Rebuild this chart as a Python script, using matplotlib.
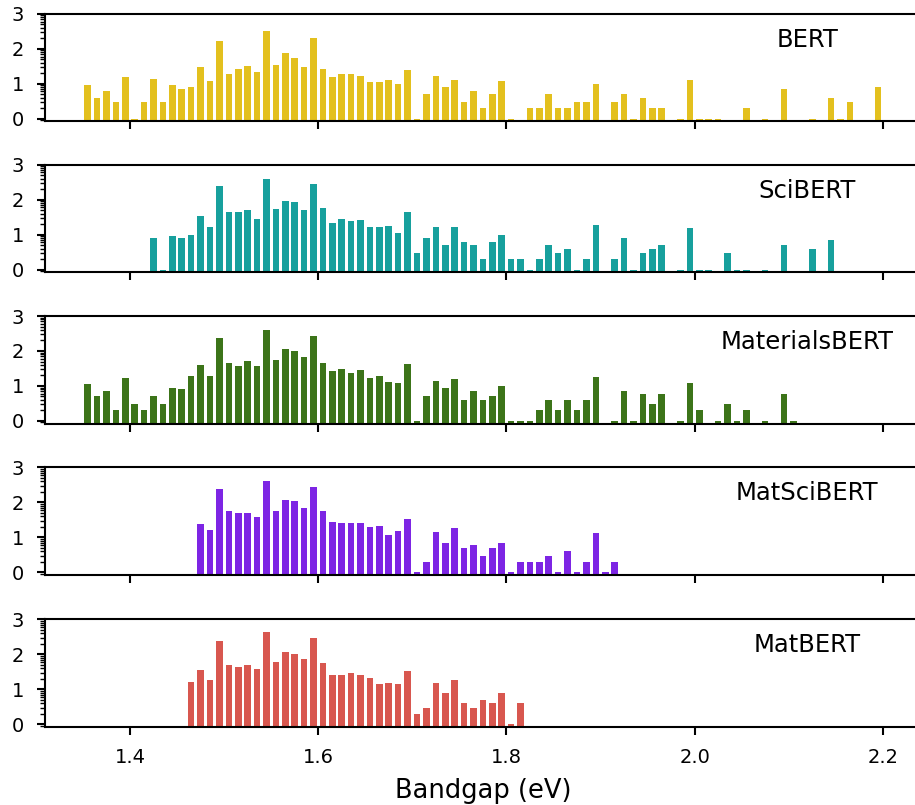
import numpy as np
import matplotlib
matplotlib.use("Agg")
import matplotlib.pyplot as plt
from matplotlib.ticker import LogLocator, FuncFormatter, NullFormatter, MultipleLocator

# Bandgap bins (eV): 0.01 eV wide bins starting at 1.35 eV
bin_centers = np.round(1.355 + 0.01 * np.arange(85), 3)

models = ["BERT", "SciBERT", "MaterialsBERT", "MatSciBERT", "MatBERT"]

bert = [9, 4, 6, 3, 16, 1, 3, 14, 3, 9,
        7, 8, 30, 12, 168, 19, 26, 32, 22, 319,
        34, 76, 55, 30, 205, 26, 16, 19, 19, 17,
        11, 11, 13, 10, 24, 1, 5, 17, 8, 13,
        3, 6, 2, 5, 12, 1, 0, 2, 2, 5,
        2, 2, 3, 3, 10, 0, 3, 5, 1, 4,
        2, 2, 0, 1, 13, 1, 1, 1, 0, 0,
        2, 0, 1, 0, 7, 0, 0, 1, 0, 4,
        1, 3, 0, 0, 8]

scibert = [0, 0, 0, 0, 0, 0, 0, 8, 1, 9,
           8, 10, 34, 17, 250, 44, 44, 52, 28, 389,
           55, 91, 85, 51, 279, 58, 22, 28, 25, 27,
           17, 17, 18, 11, 45, 3, 8, 16, 5, 17,
           6, 5, 2, 6, 10, 2, 2, 1, 2, 5,
           3, 4, 1, 2, 19, 0, 2, 8, 1, 3,
           4, 5, 0, 1, 15, 1, 1, 0, 3, 1,
           1, 0, 1, 0, 5, 0, 0, 4, 0, 7,
           0, 0, 0, 0, 0]

materialsbert = [11, 5, 7, 2, 17, 3, 2, 5, 3, 9,
                 8, 19, 40, 19, 234, 44, 38, 51, 38, 406,
                 56, 116, 97, 67, 274, 46, 26, 30, 24, 28,
                 17, 19, 13, 12, 43, 1, 5, 14, 9, 16,
                 4, 7, 4, 5, 10, 1, 1, 1, 2, 4,
                 2, 4, 2, 4, 18, 0, 1, 7, 1, 6,
                 3, 6, 0, 1, 12, 2, 0, 1, 3, 1,
                 2, 0, 1, 0, 6, 1, 0, 0, 0, 0,
                 0, 0, 0, 0, 0]

matscibert = [0, 0, 0, 0, 0, 0, 0, 0, 0, 0,
              0, 0, 24, 16, 239, 55, 51, 51, 39, 406,
              58, 116, 106, 68, 274, 56, 28, 26, 26, 25,
              20, 21, 12, 15, 33, 1, 2, 14, 7, 19,
              5, 6, 3, 5, 7, 1, 2, 2, 2, 3,
              1, 4, 1, 2, 13, 1, 2, 0, 0, 0,
              0, 0, 0, 0, 0, 0, 0, 0, 0, 0,
              0, 0, 0, 0, 0, 0, 0, 0, 0, 0,
              0, 0, 0, 0, 0]

matbert = [0, 0, 0, 0, 0, 0, 0, 0, 0, 0,
           0, 16, 35, 19, 239, 51, 44, 51, 38, 434,
           60, 116, 104, 73, 292, 58, 26, 25, 30, 25,
           21, 14, 15, 14, 33, 2, 3, 15, 8, 18,
           4, 3, 5, 4, 8, 1, 4, 0, 0, 0,
           0, 0, 0, 0, 0, 0, 0, 0, 0, 0,
           0, 0, 0, 0, 0, 0, 0, 0, 0, 0,
           0, 0, 0, 0, 0, 0, 0, 0, 0, 0,
           0, 0, 0, 0, 0]

series = [bert, scibert, materialsbert, matscibert, matbert]
colors = ["#E3C01E", "#17A09D", "#3C7419", "#7D25E4", "#D8574F"]

fig = plt.figure(figsize=(9.15, 8.05), dpi=100)
bottoms = [0.8491, 0.6617, 0.4737, 0.2857, 0.0969]
axes = []
for k, (name, vals, col, b) in enumerate(zip(models, series, colors, bottoms)):
    ax = fig.add_axes([0.0492, b, 0.9574, 0.1337])
    counts = np.array(vals)
    mask = counts > 0
    ax.bar(bin_centers[mask], counts[mask], width=0.007, color=col, linewidth=0)
    ax.set_yscale("log")
    ax.set_ylim(10 ** -0.08, 1001)
    ax.set_xlim(1.3097, 2.2406)
    ax.yaxis.set_major_locator(LogLocator(base=10, numticks=10))
    ax.yaxis.set_minor_locator(LogLocator(base=10, subs=np.arange(2, 10), numticks=20))
    ax.yaxis.set_major_formatter(FuncFormatter(lambda v, p: f"{int(round(np.log10(v)))}"))
    ax.yaxis.set_minor_formatter(NullFormatter())
    ax.xaxis.set_major_locator(MultipleLocator(0.2))
    ax.xaxis.set_major_formatter(FuncFormatter(lambda v, p: f"{v:.1f}"))
    for s in ax.spines.values():
        s.set_linewidth(1.5)
    ax.tick_params(axis="both", which="major", length=6, width=1.5, labelsize=14, pad=9)
    ax.tick_params(axis="y", which="minor", length=3.5, width=1.0)
    if k < 4:
        ax.tick_params(axis="x", labelbottom=False)
    ax.text(0.87, 0.76, name, transform=ax.transAxes, ha="center", va="center", fontsize=17.5)
    axes.append(ax)

axes[-1].set_xlabel("Bandgap (eV)", fontsize=18.5, labelpad=8)

fig.savefig("out.png", dpi=100)
